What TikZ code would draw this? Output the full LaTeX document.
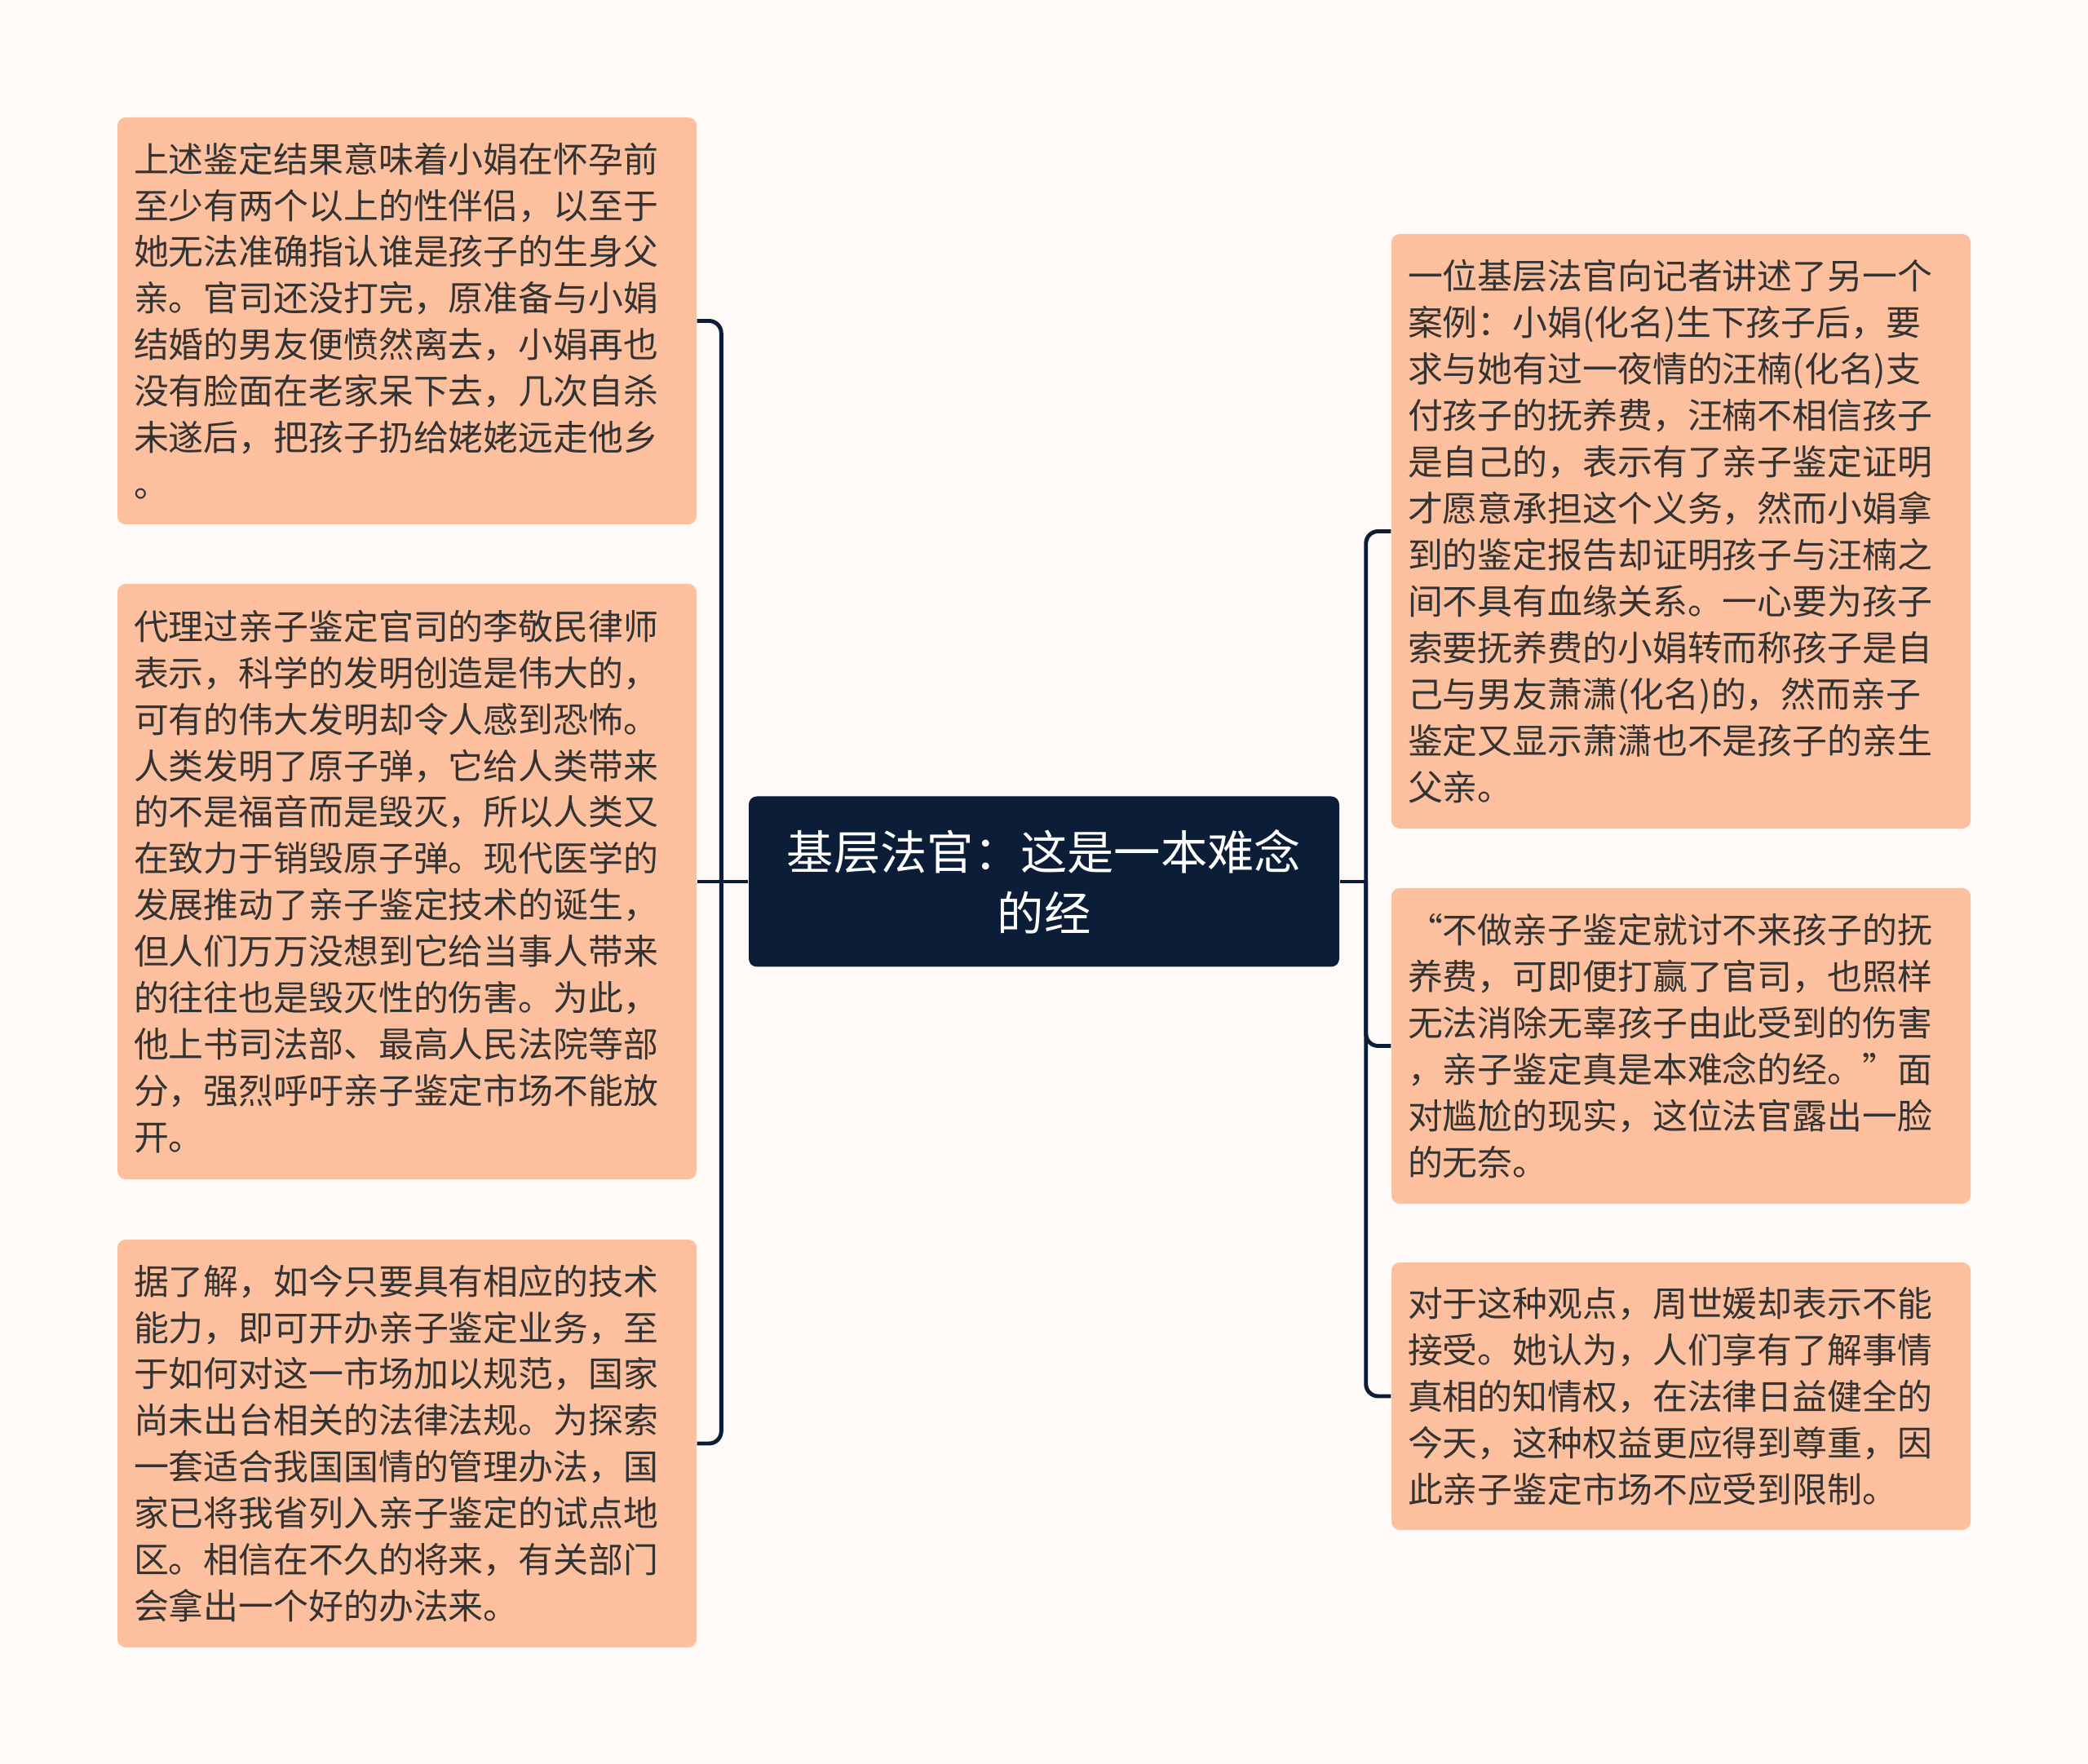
\documentclass[tikz,border=0pt]{standalone}
\usepackage{fontspec}
\newfontfamily\cjk{Noto Sans CJK SC}
\usepackage{tikz}
\usetikzlibrary{positioning}

\definecolor{paper}{HTML}{FFFAF8}
\definecolor{navy}{HTML}{0B1D37}
\definecolor{peach}{HTML}{FDC09E}
\definecolor{ink}{HTML}{333333}

\tikzset{
  leaf/.style={rectangle, rounded corners=0.1cm, fill=peach, text=ink,
    minimum width=7.10cm, text width=6.7cm, align=left, inner sep=0pt,
    font=\cjk\fontsize{12.2pt}{16.2pt}\selectfont},
  root/.style={rectangle, rounded corners=0.1cm, fill=navy, text=white,
    minimum width=7.24cm, minimum height=2.09cm, align=center,
    font=\cjk\fontsize{16.3pt}{21.3pt}\selectfont},
  link/.style={draw=navy, line width=1.4pt, rounded corners=0.15cm}
}

\begin{document}
\begin{tikzpicture}
\fill[paper] (0,0) rectangle (25.6,-21.63);
\begin{scope}
    %centre
    \node[root] (main) at (12.80,-10.81) {基层法官：这是一本难念\\的经};
    %left side
    \node[leaf, minimum height=4.99cm] (l1) at (4.99,-3.935) {上述鉴定结果意味着小娟在怀孕前\\至少有两个以上的性伴侣，以至于\\她无法准确指认谁是孩子的生身父\\亲。官司还没打完，原准备与小娟\\结婚的男友便愤然离去，小娟再也\\没有脸面在老家呆下去，几次自杀\\未遂后，把孩子扔给姥姥远走他乡\\。};
    \node[leaf, minimum height=7.30cm] (l2) at (4.99,-10.81) {代理过亲子鉴定官司的李敬民律师\\表示，科学的发明创造是伟大的，\\可有的伟大发明却令人感到恐怖。\\人类发明了原子弹，它给人类带来\\的不是福音而是毁灭，所以人类又\\在致力于销毁原子弹。现代医学的\\发展推动了亲子鉴定技术的诞生，\\但人们万万没想到它给当事人带来\\的往往也是毁灭性的伤害。为此，\\他上书司法部、最高人民法院等部\\分，强烈呼吁亲子鉴定市场不能放\\开。};
    \node[leaf, minimum height=5.00cm] (l3) at (4.99,-17.70) {据了解，如今只要具有相应的技术\\能力，即可开办亲子鉴定业务，至\\于如何对这一市场加以规范，国家\\尚未出台相关的法律法规。为探索\\一套适合我国国情的管理办法，国\\家已将我省列入亲子鉴定的试点地\\区。相信在不久的将来，有关部门\\会拿出一个好的办法来。};
    %right side
    \node[leaf, minimum height=7.29cm] (r1) at (20.61,-6.515) {一位基层法官向记者讲述了另一个\\案例：小娟(化名)生下孩子后，要\\求与她有过一夜情的汪楠(化名)支\\付孩子的抚养费，汪楠不相信孩子\\是自己的，表示有了亲子鉴定证明\\才愿意承担这个义务，然而小娟拿\\到的鉴定报告却证明孩子与汪楠之\\间不具有血缘关系。一心要为孩子\\索要抚养费的小娟转而称孩子是自\\己与男友萧潇(化名)的，然而亲子\\鉴定又显示萧潇也不是孩子的亲生\\父亲。};
    \node[leaf, minimum height=3.87cm] (r2) at (20.61,-12.825) {“不做亲子鉴定就讨不来孩子的抚\\养费，可即便打赢了官司，也照样\\无法消除无辜孩子由此受到的伤害\\，亲子鉴定真是本难念的经。”面\\对尴尬的现实，这位法官露出一脸\\的无奈。};
    \node[leaf, minimum height=3.28cm] (r3) at (20.61,-17.12) {对于这种观点，周世媛却表示不能\\接受。她认为，人们享有了解事情\\真相的知情权，在法律日益健全的\\今天，这种权益更应得到尊重，因\\此亲子鉴定市场不应受到限制。};
\end{scope}
    %connectors
    \draw[link] (main.west) -- ++(-0.33,0) coordinate (lbus);
    \draw[link] (main.east) -- ++(0.32,0) coordinate (rbus);
    \draw[link] (lbus) |- (l1.east);
    \draw[link] (lbus) -- (l2.east);
    \draw[link] (lbus) |- (l3.east);
    \draw[link] (rbus) |- (r1.west);
    \draw[link] (rbus) |- (r2.west);
    \draw[link] (rbus) |- (r3.west);
\end{tikzpicture}
\end{document}
